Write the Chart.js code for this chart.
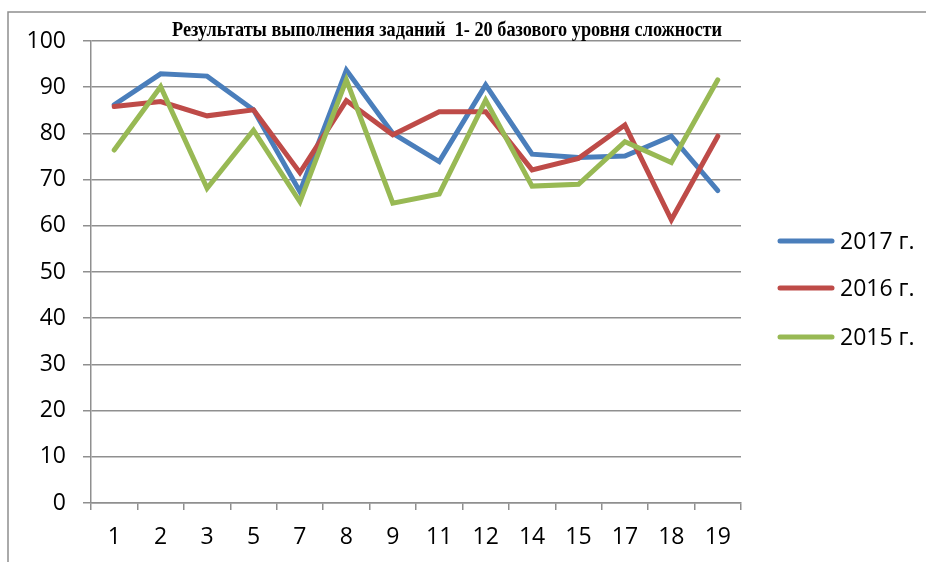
<!DOCTYPE html>
<html lang="ru">
<head>
<meta charset="utf-8">
<title>Результаты выполнения заданий</title>
<script src="https://cdn.jsdelivr.net/npm/chart.js@4/dist/chart.umd.min.js"></script>
<style>
    html, body { margin: 0; padding: 0; background: #fff; }
    #chart { display: block; }
</style>
</head>
<body>
<canvas id="chart" width="926" height="562"></canvas>
<script>
// Task numbers on the x axis
const categories = ['1', '2', '3', '5', '7', '8', '9', '11', '12', '14', '15', '17', '18', '19'];

// Percent of correct answers per year
const values2017 = [86.2, 92.9, 92.4, 85.1, 67.4, 93.7, 80.0, 73.9, 90.5, 75.5, 74.8, 75.1, 79.4, 67.6];
const values2016 = [85.8, 86.9, 83.8, 85.1, 71.5, 87.1, 79.7, 84.7, 84.7, 72.1, 74.6, 81.8, 61.3, 79.4];
const values2015 = [76.4, 90.1, 68.1, 80.7, 65.2, 91.6, 64.9, 66.9, 87.2, 68.6, 69.0, 78.2, 73.7, 91.6];

const seriesNames = ['2017 г.', '2016 г.', '2015 г.'];
const yTicks = [0, 10, 20, 30, 40, 50, 60, 70, 80, 90, 100];

const titleText = 'Результаты выполнения заданий  1- 20 базового уровня сложности';

const GRID = '#8f8f8f';
const AXIS_FONT = { family: '"Open Sans", "Noto Sans", sans-serif', size: 23 };

// Outer frame of the chart block
const framePlugin = {
    id: 'frame',
    beforeDraw(chart) {
        const ctx = chart.ctx;
        ctx.save();
        ctx.strokeStyle = GRID;
        ctx.lineWidth = 1.5;
        ctx.beginPath();
        ctx.moveTo(8, chart.height + 2);
        ctx.lineTo(8, 12);
        ctx.lineTo(chart.width + 2, 12);
        ctx.stroke();
        ctx.restore();
    }
};

// Condensed bold serif heading above the plot
const titlePlugin = {
    id: 'condensedTitle',
    afterDraw(chart) {
        const ctx = chart.ctx;
        ctx.save();
        ctx.font = 'bold 21px "Liberation Serif", "DejaVu Serif", serif';
        const w = ctx.measureText(titleText).width;
        const sx = 550 / w;
        ctx.translate(447, 35.5);
        ctx.scale(sx, 1);
        ctx.fillStyle = '#000';
        ctx.textAlign = 'center';
        ctx.textBaseline = 'alphabetic';
        ctx.fillText(titleText, 0, 0);
        ctx.restore();
    }
};

// Legend on the right: thick line sample + year label
const legendPlugin = {
    id: 'sideLegend',
    afterDraw(chart) {
        const ctx = chart.ctx;
        const rows = [241, 288, 337];
        ctx.save();
        ctx.font = '23px ' + AXIS_FONT.family;
        ctx.textBaseline = 'middle';
        ctx.fillStyle = '#000';
        chart.data.datasets.forEach((ds, i) => {
            const y = rows[i];
            ctx.strokeStyle = ds.borderColor;
            ctx.lineWidth = 5;
            ctx.lineCap = 'round';
            ctx.beginPath();
            ctx.moveTo(780, y);
            ctx.lineTo(832, y);
            ctx.stroke();
            ctx.fillText(ds.label, 840, y + 1);
        });
        ctx.restore();
    }
};

function makeSeries(label, data, color, order) {
    return {
        label: label,
        data: data,
        borderColor: color,
        backgroundColor: color,
        borderWidth: 5,
        borderCapStyle: 'round',
        borderJoinStyle: 'miter',
        pointRadius: 0,
        tension: 0,
        fill: false,
        order: order
    };
}

new Chart(document.getElementById('chart'), {
    type: 'line',
    data: {
        labels: categories,
        datasets: [
            makeSeries(seriesNames[0], values2017, '#4a7ebb', 3),
            makeSeries(seriesNames[1], values2016, '#be4b48', 2),
            makeSeries(seriesNames[2], values2015, '#98b954', 1)
        ]
    },
    options: {
        responsive: false,
        animation: false,
        layout: { padding: { top: 41, right: 185, bottom: 0, left: 0 } },
        plugins: {
            legend: { display: false },
            title: { display: false },
            tooltip: { enabled: false }
        },
        scales: {
            x: {
                offset: true,
                grid: {
                    offset: true,
                    drawOnChartArea: false,
                    drawTicks: true,
                    tickLength: 7,
                    color: GRID,
                    lineWidth: 1.5
                },
                border: { display: true, color: GRID, width: 1.5 },
                ticks: { color: '#000', font: AXIS_FONT, padding: 14, maxRotation: 0, autoSkip: false },
                afterFit(scale) { scale.height = 59; }
            },
            y: {
                min: yTicks[0],
                max: yTicks[yTicks.length - 1],
                afterBuildTicks(scale) { scale.ticks = yTicks.map(v => ({ value: v })); },
                grid: {
                    color: GRID,
                    lineWidth: 1.5,
                    drawTicks: true,
                    tickLength: 8
                },
                border: { display: true, color: GRID, width: 1.5 },
                ticks: { color: '#000', font: AXIS_FONT, padding: 17 },
                afterFit(scale) { scale.width = 91; }
            }
        }
    },
    plugins: [framePlugin, titlePlugin, legendPlugin]
});
</script>
</body>
</html>
